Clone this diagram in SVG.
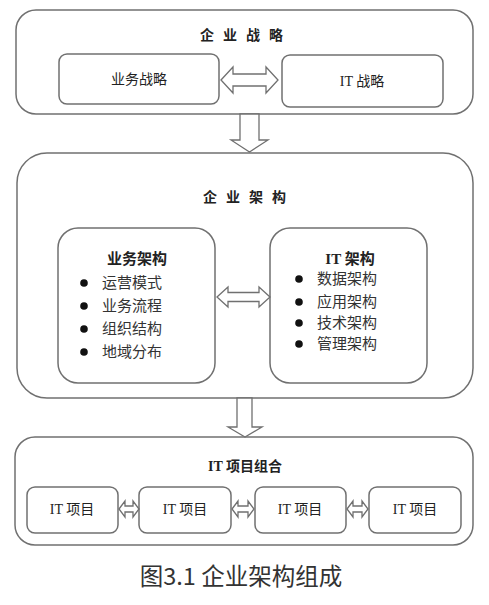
<svg xmlns="http://www.w3.org/2000/svg" width="489" height="605" viewBox="0 0 489 605">
<style>
.box{fill:#fff;stroke:#707070;stroke-width:1.5}
.arr{fill:#fff;stroke:#707070;stroke-width:1.3;stroke-linejoin:miter}
.t{font-family:"Liberation Serif","Noto Sans CJK SC",serif;fill:#222;text-anchor:middle}
.b{font-weight:bold}
.li{font-family:"Liberation Serif","Noto Sans CJK SC",serif;fill:#333;font-size:15px}
.cap{font-family:"Noto Sans CJK SC","Noto Sans",sans-serif;fill:#333;font-size:23.5px;text-anchor:middle}
</style>
<rect width="489" height="605" fill="#fff"/>
<g id="strategy">
<rect class="box" x="16" y="10" width="457" height="104" rx="20"/>
<text class="t b" x="246" y="40" font-size="14" letter-spacing="9">企业战略</text>
</g>
<g id="biz-strategy">
<rect class="box" x="59" y="54" width="160" height="50" rx="8"/>
<text class="t" x="139" y="84" font-size="14">业务战略</text>
</g>
<g id="it-strategy">
<rect class="box" x="282" y="55" width="161" height="52" rx="8"/>
<text class="t" x="362" y="86" font-size="14">IT 战略</text>
</g>
<g id="ea">
<rect class="box" x="17" y="153" width="456" height="245" rx="30"/>
<text class="t b" x="249" y="202" font-size="14" letter-spacing="9">企业架构</text>
</g>
<g id="biz-arch">
<rect class="box" x="58" y="228" width="157" height="155" rx="20"/>
<text class="t b" x="137" y="264" font-size="15">业务架构</text>
<g fill="#111"><circle cx="84" cy="283" r="3.8"/><circle cx="84" cy="306" r="3.8"/><circle cx="84" cy="329" r="3.8"/><circle cx="84" cy="352" r="3.8"/></g>
<text class="li" x="102" y="288">运营模式</text>
<text class="li" x="102" y="311">业务流程</text>
<text class="li" x="102" y="334">组织结构</text>
<text class="li" x="102" y="357">地域分布</text>
</g>
<g id="it-arch">
<rect class="box" x="270" y="228" width="157" height="155" rx="20"/>
<text class="t b" x="350" y="264" font-size="15">IT 架构</text>
<g fill="#111"><circle cx="299" cy="279" r="3.8"/><circle cx="299" cy="302" r="3.8"/><circle cx="299" cy="323" r="3.8"/><circle cx="299" cy="344" r="3.8"/></g>
<text class="li" x="317" y="284">数据架构</text>
<text class="li" x="317" y="307">应用架构</text>
<text class="li" x="317" y="328">技术架构</text>
<text class="li" x="317" y="349">管理架构</text>
</g>
<g id="portfolio">
<rect class="box" x="15" y="437" width="458" height="108" rx="20"/>
<text class="t b" x="245" y="471" font-size="14">IT 项目组合</text>
</g>
<g id="p1"><rect class="box" x="27" y="487" width="91" height="46" rx="8"/><text class="t" x="72" y="514" font-size="14">IT 项目</text></g>
<g id="p2"><rect class="box" x="139" y="487" width="92" height="46" rx="8"/><text class="t" x="185" y="514" font-size="14">IT 项目</text></g>
<g id="p3"><rect class="box" x="255" y="487" width="91" height="46" rx="8"/><text class="t" x="300" y="514" font-size="14">IT 项目</text></g>
<g id="p4"><rect class="box" x="369" y="487" width="92" height="46" rx="8"/><text class="t" x="415" y="514" font-size="14">IT 项目</text></g>
<g id="connectors">
<path class="arr" d="M221,80 L233,67 L233,74 L266,74 L266,67 L278,80 L266,93 L266,86 L233,86 L233,93 Z"/>
<path class="arr" d="M240,114 L259,114 L259,140 L268,140 L249.5,152 L231,140 L240,140 Z"/>
<path class="arr" d="M217,297 L228,287 L228,292.5 L259,292.5 L259,287 L270,297 L259,307 L259,301.5 L228,301.5 L228,307 Z"/>
<path class="arr" d="M237,398 L252,398 L252,427 L262,427 L245,437 L228,427 L237,427 Z"/>
<path class="arr" d="M119,509 L125,501 L125,506 L133,506 L133,501 L139,509 L133,517 L133,512 L125,512 L125,517 Z"/>
<path class="arr" d="M232,509 L238,501 L238,506 L248,506 L248,501 L254,509 L248,517 L248,512 L238,512 L238,517 Z"/>
<path class="arr" d="M347,509 L353,501 L353,506 L362,506 L362,501 L368,509 L362,517 L362,512 L353,512 L353,517 Z"/>
</g>
<text class="cap" x="241" y="585">图3.1 企业架构组成</text>
</svg>
